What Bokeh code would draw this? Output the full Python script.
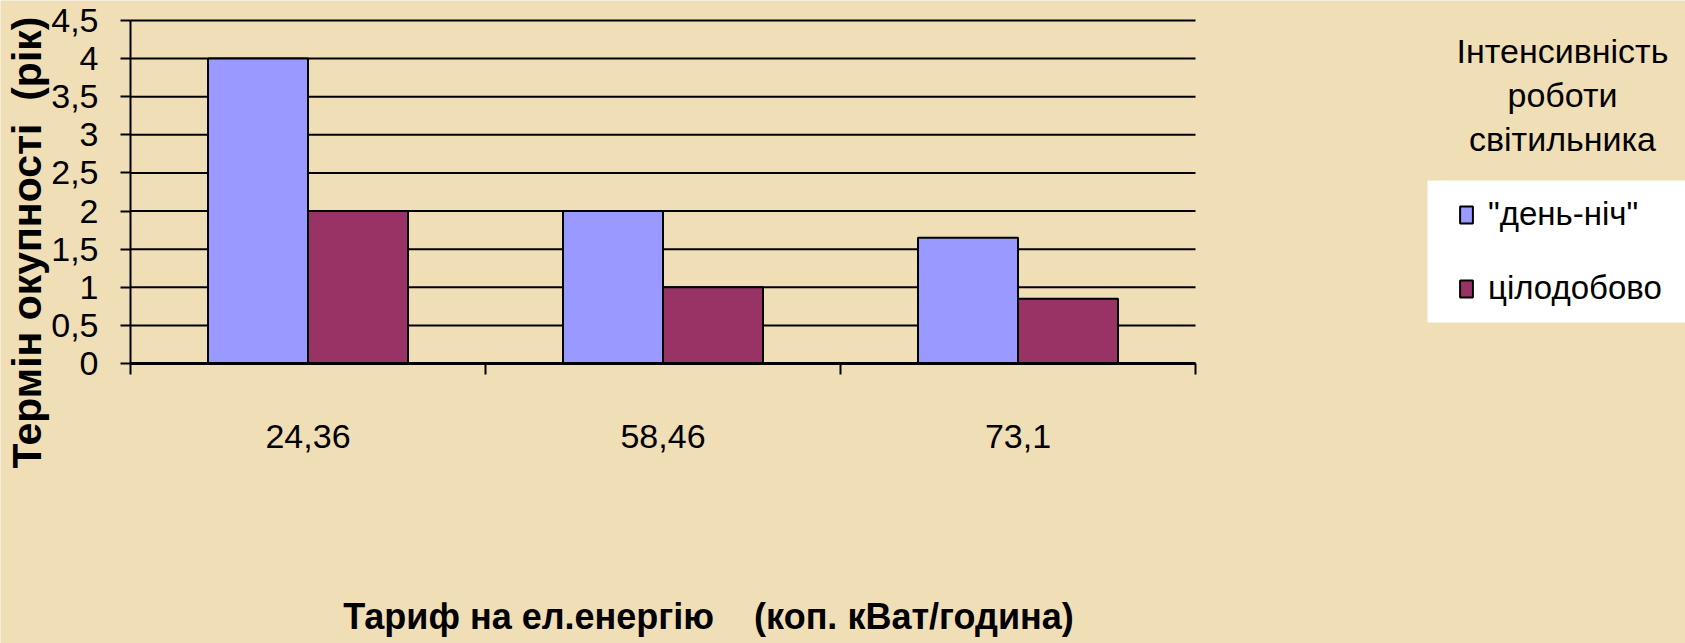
import math
import numpy as np
from bokeh.plotting import figure
from bokeh.models import (Range1d, FixedTicker, Label, Legend, LegendItem,
                          LinearAxis, CustomJSTickFormatter, BoxAnnotation)
from bokeh.embed import file_html
from bokeh.resources import INLINE

# ---------------- data ----------------
tariffs = ["24,36", "58,46", "73,1"]
day_night = [4.0, 2.0, 1.65]
round_clock = [2.0, 1.0, 0.85]
series_names = ['"день-ніч"', "цілодобово"]
series_colors = ["#9999FF", "#993366"]
y_ticks = [0, 0.5, 1, 1.5, 2, 2.5, 3, 3.5, 4, 4.5]
legend_title_lines = ["Інтенсивність", "роботи", "світильника"]
x_title = "Тариф на ел.енергію\u00a0\u00a0\u00a0\u00a0(коп. кВат/година)"
y_title = "Термін окупності\u00a0\u00a0(рік)"

# ---------------- layout ----------------
W, H = 1685, 643
BG = "#EFDEB6"
FONT = "Liberation Sans"

x_max = len(tariffs)
y_max = 4.5
# plotting area (pixels) inside the canvas
AX_L, AX_R, AX_T, AX_B = 130, 1195, 20, 363
PX_X = (AX_R - AX_L) / x_max
PX_Y = (AX_B - AX_T) / y_max


def dx(px):
    return (px - AX_L) / PX_X


def dy(py):
    return (AX_B - py) / PX_Y


p = figure(width=W, height=H, output_backend="svg", toolbar_location=None,
           x_range=Range1d(dx(0), dx(W)), y_range=Range1d(dy(H), dy(0)),
           x_axis_type=None, y_axis_type=None,
           min_border=0, min_border_left=0, min_border_right=0,
           min_border_top=0, min_border_bottom=0)
p.background_fill_color = BG
p.border_fill_color = BG
p.outline_line_color = None

# horizontal grid lines across the plotting area
p.segment(x0=0, x1=x_max, y0=y_ticks, y1=y_ticks, line_color="black",
          line_width=2)

idx = np.arange(len(tariffs))
centers = idx + 0.5
bw = 100 / 355.0
r1 = p.vbar(x=centers - bw / 2, top=day_night, width=bw, bottom=0,
            fill_color=series_colors[0], line_color="black", line_width=2)
r2 = p.vbar(x=centers + bw / 2, top=round_clock, width=bw, bottom=0,
            fill_color=series_colors[1], line_color="black", line_width=2)

# y axis
ya = LinearAxis(fixed_location=0, bounds=(0, y_max))
ya.ticker = FixedTicker(ticks=y_ticks)
ya.formatter = CustomJSTickFormatter(code="return tick.toString().replace('.', ',')")
ya.axis_line_color = "black"
ya.axis_line_width = 2
ya.major_tick_line_color = "black"
ya.major_tick_line_width = 2
ya.major_tick_in = 0
ya.major_tick_out = 10
ya.minor_tick_line_color = None
ya.major_label_standoff = 22
ya.major_label_text_font = FONT
ya.major_label_text_font_size = "34px"
ya.major_label_text_color = "black"
p.add_layout(ya, "left")

# x axis
xa = LinearAxis(fixed_location=0, bounds=(0, x_max))
xa.ticker = FixedTicker(ticks=list(centers), minor_ticks=list(range(x_max + 1)))
xa.formatter = CustomJSTickFormatter(args=dict(labels=tariffs),
                                     code="return labels[Math.floor(tick)]")
xa.axis_line_color = "black"
xa.axis_line_width = 3
xa.major_tick_line_color = None
xa.major_tick_in = 0
xa.major_tick_out = 11
xa.minor_tick_line_color = "black"
xa.minor_tick_line_width = 2
xa.minor_tick_in = 0
xa.minor_tick_out = 11
xa.major_label_standoff = 50
xa.major_label_text_font = FONT
xa.major_label_text_font_size = "34px"
xa.major_label_text_color = "black"
p.add_layout(xa, "below")

# axis titles
p.add_layout(Label(x=dx(708), y=dy(616), text=x_title, text_align="center",
                   text_baseline="middle", text_font=FONT,
                   text_font_style="bold", text_font_size="36px",
                   text_color="black"))
p.add_layout(Label(x=dx(26), y=dy(242), text=y_title, angle=math.pi / 2,
                   text_align="center", text_baseline="middle", text_font=FONT,
                   text_font_style="bold", text_font_size="41px",
                   text_color="black"))

# legend title lines
for i, line in enumerate(legend_title_lines):
    p.add_layout(Label(x=dx(1562), y=dy(50 + 44 * i), text=line,
                       text_align="center", text_baseline="alphabetic",
                       text_font=FONT, text_font_size="34px",
                       text_color="black"))

# white legend panel
p.add_layout(BoxAnnotation(left=dx(1427), right=dx(W), top=dy(180),
                           bottom=dy(322), fill_color="white", fill_alpha=1.0,
                           line_alpha=0, level="annotation"))

legend = Legend(items=[LegendItem(label=series_names[0], renderers=[r1]),
                       LegendItem(label=series_names[1], renderers=[r2])],
                location=(1458, 336),
                background_fill_alpha=0.0,
                border_line_color=None, padding=26, spacing=36, margin=0,
                glyph_width=16, glyph_height=21, label_standoff=14,
                label_text_font=FONT, label_text_font_size="33px",
                label_text_color="black")
p.add_layout(legend)

open("out.html", "w").write(file_html(p, INLINE))
